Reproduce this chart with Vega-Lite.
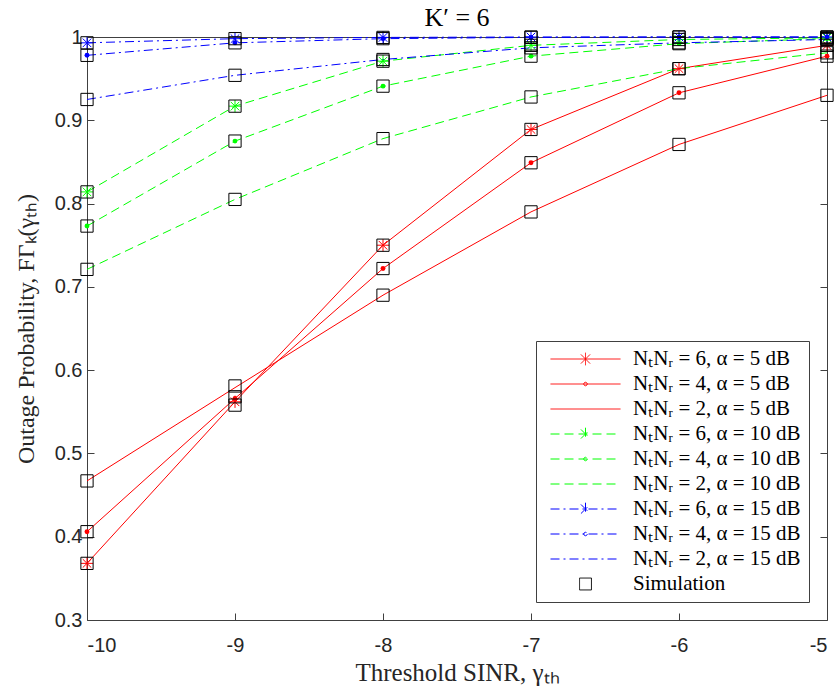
{
  "$schema": "https://vega.github.io/schema/vega-lite/v6.json",
  "width": 740,
  "height": 583,
  "autosize": {"type": "none"},
  "padding": {"left": 87, "top": 37, "right": 12, "bottom": 74},
  "background": "white",
  "title": {
    "text": "K′ = 6",
    "font": "Liberation Serif",
    "fontSize": 26,
    "fontWeight": "normal",
    "color": "black",
    "offset": -4
  },
  "config": {
    "view": {"stroke": null},
    "axis": {
      "domainColor": "#404040",
      "domainWidth": 1,
      "tickColor": "#404040",
      "tickWidth": 1,
      "grid": false,
      "labelFont": "Liberation Sans",
      "labelFontSize": 20,
      "labelColor": "#262626",
      "titleFont": "Liberation Serif",
      "titleFontSize": 24,
      "titleFontWeight": "normal",
      "titleColor": "#262626"
    },
    "legend": {
      "orient": "bottom-right",
      "offset": 18,
      "symbolSize": 4900,
      "symbolStrokeWidth": 1,
      "symbolOffset": 6,
      "clipHeight": 20,
      "rowPadding": 4,
      "labelFont": "Liberation Serif",
      "labelFontSize": 21,
      "labelColor": "black",
      "labelOffset": 12,
      "labelLimit": 300,
      "padding": 8,
      "strokeColor": "#404040",
      "fillColor": "white"
    }
  },
  "datasets": {
    "curves": [
      {"g": -10, "p": 0.368, "s": 0.368, "n": "NₜNᵣ = 6, α = 5 dB", "m": "star"},
      {"g": -9, "p": 0.562, "s": 0.558, "n": "NₜNᵣ = 6, α = 5 dB", "m": "star"},
      {"g": -8, "p": 0.750, "s": 0.750, "n": "NₜNᵣ = 6, α = 5 dB", "m": "star"},
      {"g": -7, "p": 0.889, "s": 0.889, "n": "NₜNᵣ = 6, α = 5 dB", "m": "star"},
      {"g": -6, "p": 0.962, "s": 0.962, "n": "NₜNᵣ = 6, α = 5 dB", "m": "star"},
      {"g": -5, "p": 0.990, "s": 0.990, "n": "NₜNᵣ = 6, α = 5 dB", "m": "star"},
      {"g": -10, "p": 0.406, "s": 0.406, "n": "NₜNᵣ = 4, α = 5 dB", "m": "dot"},
      {"g": -9, "p": 0.566, "s": 0.568, "n": "NₜNᵣ = 4, α = 5 dB", "m": "dot"},
      {"g": -8, "p": 0.722, "s": 0.722, "n": "NₜNᵣ = 4, α = 5 dB", "m": "dot"},
      {"g": -7, "p": 0.849, "s": 0.849, "n": "NₜNᵣ = 4, α = 5 dB", "m": "dot"},
      {"g": -6, "p": 0.933, "s": 0.933, "n": "NₜNᵣ = 4, α = 5 dB", "m": "dot"},
      {"g": -5, "p": 0.977, "s": 0.977, "n": "NₜNᵣ = 4, α = 5 dB", "m": "dot"},
      {"g": -10, "p": 0.467, "s": 0.467, "n": "NₜNᵣ = 2, α = 5 dB", "m": "none"},
      {"g": -9, "p": 0.579, "s": 0.581, "n": "NₜNᵣ = 2, α = 5 dB", "m": "none"},
      {"g": -8, "p": 0.690, "s": 0.690, "n": "NₜNᵣ = 2, α = 5 dB", "m": "none"},
      {"g": -7, "p": 0.790, "s": 0.790, "n": "NₜNᵣ = 2, α = 5 dB", "m": "none"},
      {"g": -6, "p": 0.871, "s": 0.871, "n": "NₜNᵣ = 2, α = 5 dB", "m": "none"},
      {"g": -5, "p": 0.930, "s": 0.930, "n": "NₜNᵣ = 2, α = 5 dB", "m": "none"},
      {"g": -10, "p": 0.814, "s": 0.814, "n": "NₜNᵣ = 6, α = 10 dB", "m": "star"},
      {"g": -9, "p": 0.917, "s": 0.917, "n": "NₜNᵣ = 6, α = 10 dB", "m": "star"},
      {"g": -8, "p": 0.971, "s": 0.971, "n": "NₜNᵣ = 6, α = 10 dB", "m": "star"},
      {"g": -7, "p": 0.990, "s": 0.990, "n": "NₜNᵣ = 6, α = 10 dB", "m": "star"},
      {"g": -6, "p": 0.997, "s": 0.997, "n": "NₜNᵣ = 6, α = 10 dB", "m": "star"},
      {"g": -5, "p": 0.999, "s": 0.999, "n": "NₜNᵣ = 6, α = 10 dB", "m": "star"},
      {"g": -10, "p": 0.773, "s": 0.773, "n": "NₜNᵣ = 4, α = 10 dB", "m": "dot"},
      {"g": -9, "p": 0.875, "s": 0.875, "n": "NₜNᵣ = 4, α = 10 dB", "m": "dot"},
      {"g": -8, "p": 0.941, "s": 0.941, "n": "NₜNᵣ = 4, α = 10 dB", "m": "dot"},
      {"g": -7, "p": 0.977, "s": 0.977, "n": "NₜNᵣ = 4, α = 10 dB", "m": "dot"},
      {"g": -6, "p": 0.992, "s": 0.992, "n": "NₜNᵣ = 4, α = 10 dB", "m": "dot"},
      {"g": -5, "p": 0.998, "s": 0.998, "n": "NₜNᵣ = 4, α = 10 dB", "m": "dot"},
      {"g": -10, "p": 0.721, "s": 0.721, "n": "NₜNᵣ = 2, α = 10 dB", "m": "none"},
      {"g": -9, "p": 0.805, "s": 0.805, "n": "NₜNᵣ = 2, α = 10 dB", "m": "none"},
      {"g": -8, "p": 0.878, "s": 0.878, "n": "NₜNᵣ = 2, α = 10 dB", "m": "none"},
      {"g": -7, "p": 0.928, "s": 0.928, "n": "NₜNᵣ = 2, α = 10 dB", "m": "none"},
      {"g": -6, "p": 0.962, "s": 0.962, "n": "NₜNᵣ = 2, α = 10 dB", "m": "none"},
      {"g": -5, "p": 0.981, "s": 0.981, "n": "NₜNᵣ = 2, α = 10 dB", "m": "none"},
      {"g": -10, "p": 0.993, "s": 0.993, "n": "NₜNᵣ = 6, α = 15 dB", "m": "star"},
      {"g": -9, "p": 0.998, "s": 0.998, "n": "NₜNᵣ = 6, α = 15 dB", "m": "star"},
      {"g": -8, "p": 0.9995, "s": 0.9995, "n": "NₜNᵣ = 6, α = 15 dB", "m": "star"},
      {"g": -7, "p": 1.0, "s": 1.0, "n": "NₜNᵣ = 6, α = 15 dB", "m": "star"},
      {"g": -6, "p": 1.0, "s": 1.0, "n": "NₜNᵣ = 6, α = 15 dB", "m": "star"},
      {"g": -5, "p": 1.0, "s": 1.0, "n": "NₜNᵣ = 6, α = 15 dB", "m": "star"},
      {"g": -10, "p": 0.978, "s": 0.978, "n": "NₜNᵣ = 4, α = 15 dB", "m": "dot"},
      {"g": -9, "p": 0.993, "s": 0.993, "n": "NₜNᵣ = 4, α = 15 dB", "m": "dot"},
      {"g": -8, "p": 0.998, "s": 0.998, "n": "NₜNᵣ = 4, α = 15 dB", "m": "dot"},
      {"g": -7, "p": 0.9995, "s": 0.9995, "n": "NₜNᵣ = 4, α = 15 dB", "m": "dot"},
      {"g": -6, "p": 1.0, "s": 1.0, "n": "NₜNᵣ = 4, α = 15 dB", "m": "dot"},
      {"g": -5, "p": 1.0, "s": 1.0, "n": "NₜNᵣ = 4, α = 15 dB", "m": "dot"},
      {"g": -10, "p": 0.925, "s": 0.925, "n": "NₜNᵣ = 2, α = 15 dB", "m": "none"},
      {"g": -9, "p": 0.954, "s": 0.954, "n": "NₜNᵣ = 2, α = 15 dB", "m": "none"},
      {"g": -8, "p": 0.973, "s": 0.973, "n": "NₜNᵣ = 2, α = 15 dB", "m": "none"},
      {"g": -7, "p": 0.987, "s": 0.987, "n": "NₜNᵣ = 2, α = 15 dB", "m": "none"},
      {"g": -6, "p": 0.993, "s": 0.993, "n": "NₜNᵣ = 2, α = 15 dB", "m": "none"},
      {"g": -5, "p": 0.997, "s": 0.997, "n": "NₜNᵣ = 2, α = 15 dB", "m": "none"}
    ]
  },
  "data": {"name": "curves"},
  "resolve": {"axis": {"x": "independent", "y": "independent"}},
  "layer": [
    {
      "transform": [{"filter": "false"}],
      "mark": {"type": "point", "filled": false, "opacity": 1},
      "encoding": {
        "x": {"field": "g", "type": "quantitative", "axis": null},
        "y": {"field": "p", "type": "quantitative", "axis": null},
        "color": {
          "field": "n", "type": "nominal", "title": null,
          "scale": {
            "domain": ["NₜNᵣ = 6, α = 5 dB", "NₜNᵣ = 4, α = 5 dB", "NₜNᵣ = 2, α = 5 dB", "NₜNᵣ = 6, α = 10 dB", "NₜNᵣ = 4, α = 10 dB", "NₜNᵣ = 2, α = 10 dB", "NₜNᵣ = 6, α = 15 dB", "NₜNᵣ = 4, α = 15 dB", "NₜNᵣ = 2, α = 15 dB", "Simulation"],
            "range": ["#ff0000", "#ff0000", "#ff0000", "#00ff00", "#00ff00", "#00ff00", "#0000ff", "#0000ff", "#0000ff", "#000000"]
          }
        },
        "strokeDash": {
          "field": "n", "type": "nominal", "title": null,
          "scale": {
            "domain": ["NₜNᵣ = 6, α = 5 dB", "NₜNᵣ = 4, α = 5 dB", "NₜNᵣ = 2, α = 5 dB", "NₜNᵣ = 6, α = 10 dB", "NₜNᵣ = 4, α = 10 dB", "NₜNᵣ = 2, α = 10 dB", "NₜNᵣ = 6, α = 15 dB", "NₜNᵣ = 4, α = 15 dB", "NₜNᵣ = 2, α = 15 dB", "Simulation"],
            "range": [[1, 0], [1, 0], [1, 0], [9, 5], [9, 5], [9, 5], [9, 4, 2, 4], [9, 4, 2, 4], [9, 4, 2, 4], [1, 0]]
          }
        },
        "shape": {
          "field": "n", "type": "nominal", "title": null,
          "scale": {
            "domain": ["NₜNᵣ = 6, α = 5 dB", "NₜNᵣ = 4, α = 5 dB", "NₜNᵣ = 2, α = 5 dB", "NₜNᵣ = 6, α = 10 dB", "NₜNᵣ = 4, α = 10 dB", "NₜNᵣ = 2, α = 10 dB", "NₜNᵣ = 6, α = 15 dB", "NₜNᵣ = 4, α = 15 dB", "NₜNᵣ = 2, α = 15 dB", "Simulation"],
            "range": [
              "M-1,0H1M0,-0.18V0.18M-0.13,-0.13L0.13,0.13M-0.13,0.13L0.13,-0.13",
              "M-1,0H1M0.05,0A0.05,0.05 0 1 1 -0.05,0A0.05,0.05 0 1 1 0.05,0",
              "M-1,0H1",
              "M-1,0H1M0,-0.18V0.18M-0.13,-0.13L0.13,0.13M-0.13,0.13L0.13,-0.13",
              "M-1,0H1M0.05,0A0.05,0.05 0 1 1 -0.05,0A0.05,0.05 0 1 1 0.05,0",
              "M-1,0H1",
              "M-1,0H1M0,-0.18V0.18M-0.13,-0.13L0.13,0.13M-0.13,0.13L0.13,-0.13",
              "M-1,0H1M0.05,0A0.05,0.05 0 1 1 -0.05,0A0.05,0.05 0 1 1 0.05,0",
              "M-1,0H1",
              "M-0.17,-0.17H0.17V0.17H-0.17Z"
            ]
          }
        }
      }
    },
    {
      "transform": [{"filter": "indexof(datum.n, '= 5 dB') >= 0"}],
      "mark": {"type": "line", "strokeWidth": 1, "stroke": "#ff0000", "clip": false},
      "encoding": {
        "x": {
          "field": "g", "type": "quantitative",
          "scale": {"domain": [-10, -5], "nice": false, "zero": false},
          "axis": {
            "orient": "bottom",
            "values": [-10, -9, -8, -7, -6, -5],
            "labelExpr": "'' + datum.value",
            "tickSize": -7,
            "labelPadding": 22,
            "title": "Threshold SINR, γₜₕ",
            "titleFontSize": 25,
            "titlePadding": 5
          }
        },
        "y": {
          "field": "p", "type": "quantitative",
          "scale": {"domain": [0.3, 1], "nice": false, "zero": false},
          "axis": {
            "orient": "left",
            "values": [0.3, 0.4, 0.5, 0.6, 0.7, 0.8, 0.9, 1],
            "format": "~g",
            "tickSize": -7,
            "labelPadding": 12,
            "title": "Outage Probability, FΓₖ(γₜₕ)",
            "titlePadding": 16
          }
        },
        "detail": {"field": "n"}
      }
    },
    {
      "transform": [{"filter": "indexof(datum.n, '= 10 dB') >= 0"}],
      "mark": {"type": "line", "strokeWidth": 1, "stroke": "#00ff00", "strokeDash": [9, 5], "clip": false},
      "encoding": {
        "x": {"field": "g", "type": "quantitative", "axis": null},
        "y": {"field": "p", "type": "quantitative", "axis": null},
        "detail": {"field": "n"}
      }
    },
    {
      "transform": [{"filter": "indexof(datum.n, '= 15 dB') >= 0"}],
      "mark": {"type": "line", "strokeWidth": 1, "stroke": "#0000ff", "strokeDash": [9, 4, 2, 4], "clip": false},
      "encoding": {
        "x": {"field": "g", "type": "quantitative", "axis": null},
        "y": {"field": "p", "type": "quantitative", "axis": null},
        "detail": {"field": "n"}
      }
    },
    {
      "transform": [{"filter": "datum.m === 'star'"}],
      "mark": {"type": "point", "filled": false, "strokeWidth": 1, "size": 150, "opacity": 1, "clip": false,
               "shape": "M-1,0H1M0,-1V1M-0.7,-0.7L0.7,0.7M-0.7,0.7L0.7,-0.7"},
      "encoding": {
        "x": {"field": "g", "type": "quantitative", "axis": null},
        "y": {"field": "p", "type": "quantitative", "axis": null},
        "stroke": {
          "field": "n", "type": "nominal", "legend": null,
          "scale": {
            "domain": ["NₜNᵣ = 6, α = 5 dB", "NₜNᵣ = 6, α = 10 dB", "NₜNᵣ = 6, α = 15 dB"],
            "range": ["#ff0000", "#00ff00", "#0000ff"]
          }
        }
      }
    },
    {
      "transform": [{"filter": "datum.m === 'dot'"}],
      "mark": {"type": "point", "filled": true, "shape": "circle", "size": 24, "opacity": 1, "clip": false},
      "encoding": {
        "x": {"field": "g", "type": "quantitative", "axis": null},
        "y": {"field": "p", "type": "quantitative", "axis": null},
        "fill": {
          "field": "n", "type": "nominal", "legend": null,
          "scale": {
            "domain": ["NₜNᵣ = 4, α = 5 dB", "NₜNᵣ = 4, α = 10 dB", "NₜNᵣ = 4, α = 15 dB"],
            "range": ["#ff0000", "#00ff00", "#0000ff"]
          }
        }
      }
    },
    {
      "mark": {"type": "point", "filled": false, "shape": "square", "size": 150, "stroke": "#000000", "strokeWidth": 1, "opacity": 1, "clip": false},
      "encoding": {
        "x": {
          "field": "g", "type": "quantitative",
          "axis": {"orient": "top", "values": [-10, -9, -8, -7, -6, -5], "labels": false, "tickSize": -7, "title": null}
        },
        "y": {
          "field": "s", "type": "quantitative",
          "axis": {"orient": "right", "values": [0.3, 0.4, 0.5, 0.6, 0.7, 0.8, 0.9, 1], "labels": false, "tickSize": -7, "title": null}
        }
      }
    }
  ]
}
